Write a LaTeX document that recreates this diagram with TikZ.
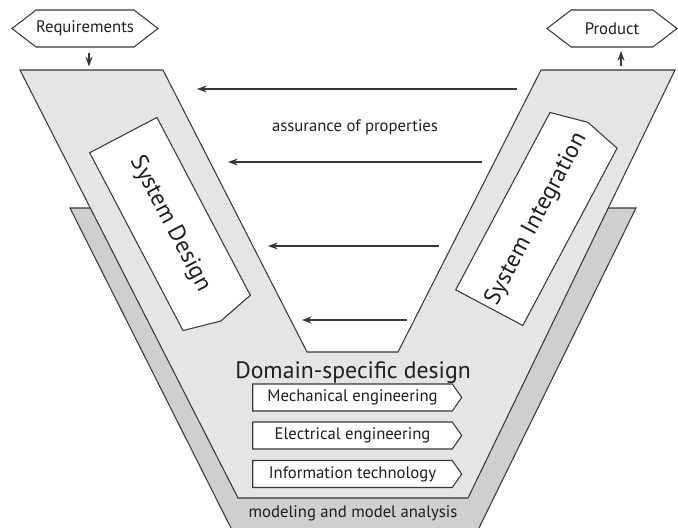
\documentclass[tikz,border=0pt]{standalone}
\usepackage{fontspec}
\setmainfont{PT Sans}
\usetikzlibrary{shapes.symbols,arrows.meta}

\definecolor{vfill}{gray}{0.9}
\definecolor{backfill}{gray}{0.81}
\definecolor{edge}{gray}{0.22}
\definecolor{ink}{gray}{0.12}

\newcommand{\smallfont}{\fontsize{9.5}{11}\selectfont}
\newcommand{\bigfont}{\fontsize{13.5}{16}\selectfont}

\tikzset{
  tag/.style={draw=edge, fill=white, signal, signal to=west and east,
    signal pointer angle=75, minimum height=0.74cm, inner sep=0pt,
    text=ink, font=\smallfont},
  phase/.style={draw=edge, fill=white, signal, signal to=east,
    signal pointer angle=153, minimum width=4.2cm, minimum height=1.52cm,
    inner sep=0pt, text=ink, font=\bigfont},
  fieldbox/.style={draw=edge, fill=white, signal, signal to=east,
    signal pointer angle=110, minimum width=4.18cm, minimum height=0.54cm,
    inner sep=0pt, text=ink, font=\smallfont}
}

\begin{document}
\begin{tikzpicture}[x=0.02cm, y=-0.02cm, line width=0.6pt,
    >={Stealth[length=5.5pt,width=4pt]}]
  \clip (0,0) rectangle (678,527);

  % modeling layer behind the V
  \fill[backfill] (70,208) -- (120,208) -- (353,450) -- (590,208) -- (636,208)
    -- (477,532) -- (233,532) -- cycle;
  \draw[edge] (120,208) -- (70,208) -- (233,532);
  \draw[edge] (590,208) -- (636,208) -- (477,532);

  % the V itself
  \draw[edge, fill=vfill] (20,70) -- (163,70) -- (307,352) -- (398,352)
    -- (541,70) -- (675,70) -- (468,498) -- (238,498) -- cycle;

  % inputs and outputs
  \node[tag, minimum width=2.88cm] (req) at (85,28.5) {Requirements};
  \node[tag, minimum width=2.6cm] (prod) at (612,28.5) {Product};
  \coordinate (reqin) at (89,70);
  \coordinate (prodout) at (621,70);
  \draw[edge, ->, shorten <=3pt, shorten >=2pt] (req.south -| reqin) -- (reqin);
  \draw[edge, ->, shorten <=2pt, shorten >=2pt] (prodout) -- (prod.south -| prodout);

  % the two arms
  \node[phase, rotate=-62.3] (sysdes) at (170,224) {System Design};
  \node[phase, rotate=62] (sysint) at (536.4,219) {System Integration};

  % feedback from integration to design
  \foreach \i/\y/\xa/\xb in {1/89/517/197, 2/162/482/228, 3/246/439/268, 4/320/407/302} {
    \coordinate (from\i) at (\xa,\y);
    \coordinate (to\i) at (\xb,\y);
    \draw[edge, ->] (from\i) -- (to\i);
  }
  \node[text=ink, font=\smallfont, anchor=base] (assure) at (355,131) {assurance of properties};

  % domain-specific part at the bottom
  \node[text=ink, font=\bigfont, anchor=base] (dsd) at (353,378) {Domain-specific design};
  \node[fieldbox] (mech) at (352.5,397.5) {Mechanical engineering};
  \node[fieldbox] (elec) at (352.5,435.5) {Electrical engineering};
  \node[fieldbox] (info) at (352.5,474) {Information technology};
  \node[text=ink, font=\smallfont, anchor=base] (model) at (353,517) {modeling and model analysis};
\end{tikzpicture}
\end{document}
